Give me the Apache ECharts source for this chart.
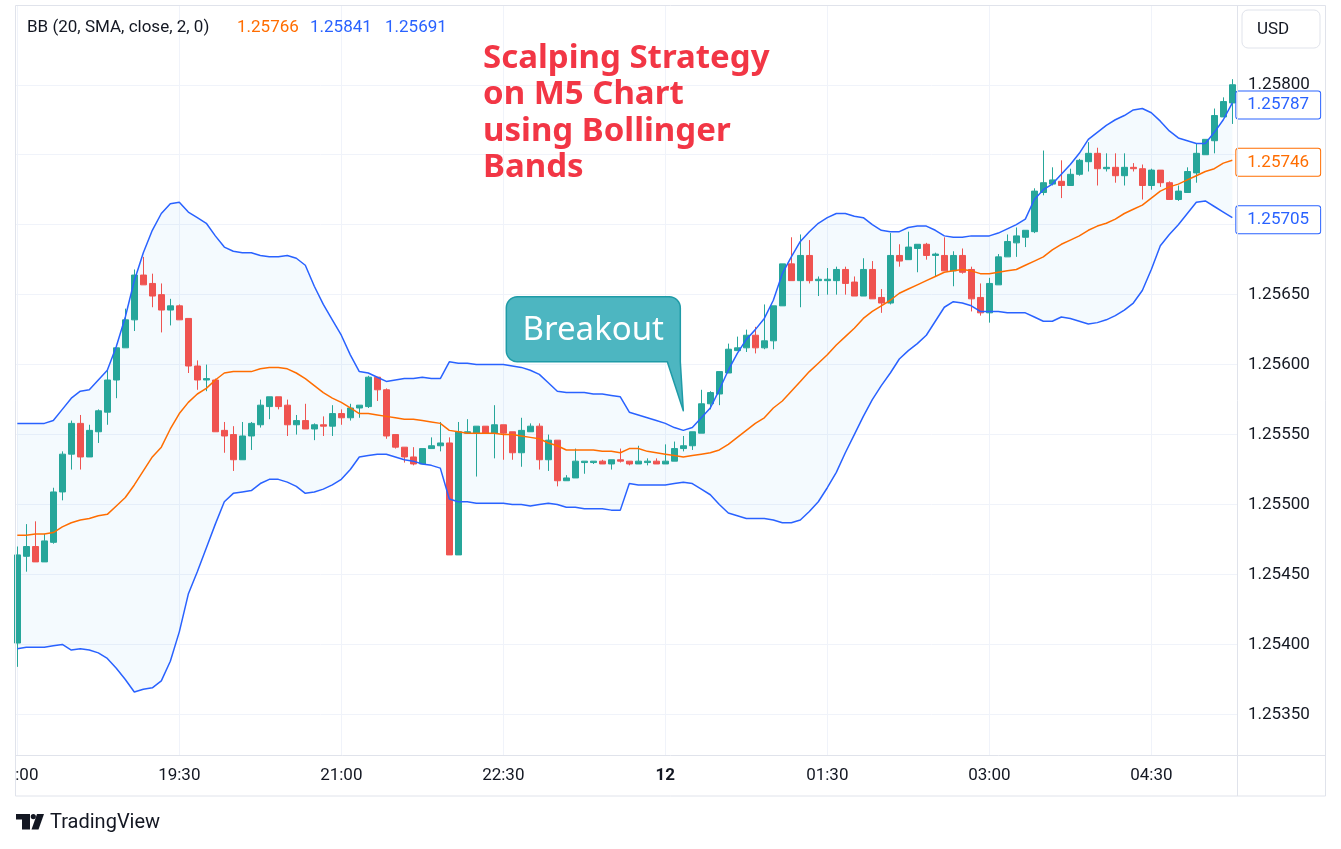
<!DOCTYPE html>
<html><head><meta charset="utf-8">
<script src="https://cdn.jsdelivr.net/npm/echarts@6/dist/echarts.min.js"></script>
<style>html,body{margin:0;padding:0;background:#fff}#main{width:1341px;height:849px}</style>
</head><body><div id="main"></div>
<script>
// ---------- data ----------
const timeLabels = ['18:00','19:30','21:00','22:30','12','01:30','03:00','04:30'];
const timeLabelIndex = [0,18,36,54,72,90,108,126];
const priceTicks = [1.2535,1.2540,1.2545,1.2550,1.2555,1.2560,1.2565,1.2570,1.2575,1.2580];
// labels hidden behind the indicator tags in the picture (1.25700, 1.25750) are left out
const priceLabelTicks = [1.2535,1.2540,1.2545,1.2550,1.2555,1.2560,1.2565,1.2580];

const openP = [1.25401,1.25463,1.25470,1.25459,1.25473,1.25509,1.25536,1.25558,1.25534,1.25552,
1.25566,1.25589,1.25612,1.25632,1.25664,1.25658,1.25650,1.25639,1.25642,1.25633,
1.25599,1.25589,1.25589,1.25553,1.25550,1.25532,1.25549,1.25557,1.25570,1.25577,
1.25571,1.25557,1.25560,1.25554,1.25557,1.25556,1.25565,1.25562,1.25569,1.25570,
1.25591,1.25582,1.25550,1.25541,1.25534,1.25529,1.25540,1.25542,1.25544,1.25464,
1.25551,1.25551,1.25556,1.25551,1.25557,1.25552,1.25537,1.25552,1.25556,1.25532,
1.25546,1.25517,1.25519,1.25530,1.25530,1.25531,1.25529,1.25532,1.25531,1.25529,
1.25530,1.25531,1.25529,1.25531,1.25540,1.25542,1.25551,1.25572,1.25579,1.25594,
1.25610,1.25612,1.25621,1.25612,1.25617,1.25642,1.25672,1.25660,1.25678,1.25660,
1.25660,1.25660,1.25668,1.25659,1.25649,1.25668,1.25648,1.25644,1.25678,1.25675,
1.25683,1.25686,1.25678,1.25678,1.25667,1.25678,1.25668,1.25648,1.25637,1.25657,
1.25677,1.25687,1.25691,1.25695,1.25723,1.25729,1.25731,1.25728,1.25736,1.25745,
1.25751,1.25740,1.25741,1.25735,1.25741,1.25740,1.25728,1.25739,1.25730,1.25718,
1.25723,1.25737,1.25750,1.25760,1.25777,1.25787];
const highP = [1.25470,1.25486,1.25488,1.25479,1.25512,1.25538,1.25560,1.25564,1.25557,1.25568,
1.25596,1.25612,1.25640,1.25668,1.25677,1.25665,1.25658,1.25647,1.25643,1.25633,
1.25603,1.25600,1.25590,1.25559,1.25556,1.25559,1.25559,1.25575,1.25577,1.25577,
1.25575,1.25564,1.25572,1.25558,1.25563,1.25571,1.25568,1.25572,1.25571,1.25592,
1.25591,1.25583,1.25550,1.25541,1.25541,1.25540,1.25548,1.25559,1.25548,1.25559,
1.25561,1.25556,1.25556,1.25571,1.25557,1.25552,1.25562,1.25558,1.25558,1.25550,
1.25546,1.25521,1.25540,1.25531,1.25531,1.25532,1.25532,1.25540,1.25531,1.25542,
1.25533,1.25533,1.25543,1.25545,1.25549,1.25552,1.25582,1.25581,1.25595,1.25615,
1.25620,1.25625,1.25627,1.25643,1.25642,1.25672,1.25691,1.25693,1.25689,1.25663,
1.25669,1.25670,1.25670,1.25663,1.25676,1.25674,1.25654,1.25694,1.25686,1.25695,
1.25686,1.25687,1.25680,1.25691,1.25681,1.25683,1.25670,1.25658,1.25662,1.25679,
1.25693,1.25698,1.25696,1.25726,1.25753,1.25741,1.25746,1.25740,1.25747,1.25759,
1.25755,1.25751,1.25751,1.25751,1.25744,1.25743,1.25740,1.25739,1.25731,1.25728,
1.25741,1.25758,1.25761,1.25783,1.25791,1.25804];
const lowP = [1.25384,1.25452,1.25459,1.25459,1.25472,1.25503,1.25525,1.25525,1.25534,1.25544,
1.25557,1.25576,1.25612,1.25624,1.25657,1.25641,1.25623,1.25628,1.25632,1.25594,
1.25582,1.25581,1.25552,1.25537,1.25524,1.25532,1.25539,1.25555,1.25561,1.25568,
1.25549,1.25550,1.25554,1.25546,1.25549,1.25549,1.25557,1.25560,1.25562,1.25569,
1.25574,1.25547,1.25540,1.25530,1.25528,1.25529,1.25540,1.25538,1.25464,1.25464,
1.25551,1.25520,1.25551,1.25533,1.25532,1.25532,1.25527,1.25552,1.25525,1.25524,
1.25513,1.25517,1.25519,1.25522,1.25529,1.25529,1.25525,1.25530,1.25528,1.25529,
1.25528,1.25529,1.25529,1.25531,1.25538,1.25539,1.25551,1.25568,1.25571,1.25594,
1.25610,1.25609,1.25608,1.25611,1.25611,1.25642,1.25660,1.25641,1.25658,1.25649,
1.25650,1.25650,1.25650,1.25649,1.25649,1.25647,1.25637,1.25643,1.25670,1.25675,
1.25666,1.25675,1.25663,1.25667,1.25656,1.25665,1.25638,1.25635,1.25630,1.25657,
1.25677,1.25677,1.25684,1.25694,1.25721,1.25728,1.25719,1.25728,1.25735,1.25738,
1.25728,1.25738,1.25730,1.25728,1.25738,1.25718,1.25725,1.25727,1.25718,1.25717,
1.25723,1.25730,1.25750,1.25751,1.25777,1.25772];
const closeP = [1.25464,1.25470,1.25459,1.25474,1.25509,1.25536,1.25558,1.25534,1.25553,1.25567,
1.25589,1.25612,1.25632,1.25664,1.25657,1.25649,1.25639,1.25642,1.25632,1.25599,
1.25589,1.25590,1.25552,1.25549,1.25532,1.25549,1.25558,1.25571,1.25577,1.25570,
1.25557,1.25560,1.25554,1.25557,1.25556,1.25565,1.25562,1.25569,1.25571,1.25591,
1.25582,1.25549,1.25541,1.25534,1.25529,1.25540,1.25542,1.25544,1.25464,1.25552,
1.25552,1.25556,1.25551,1.25557,1.25551,1.25537,1.25553,1.25556,1.25532,1.25546,
1.25517,1.25519,1.25531,1.25531,1.25531,1.25529,1.25532,1.25531,1.25529,1.25531,
1.25531,1.25529,1.25531,1.25540,1.25542,1.25552,1.25572,1.25580,1.25595,1.25611,
1.25612,1.25621,1.25612,1.25617,1.25642,1.25672,1.25660,1.25678,1.25660,1.25661,
1.25661,1.25668,1.25658,1.25649,1.25668,1.25647,1.25644,1.25678,1.25674,1.25684,
1.25686,1.25678,1.25679,1.25667,1.25678,1.25666,1.25647,1.25637,1.25658,1.25677,
1.25688,1.25692,1.25696,1.25724,1.25730,1.25732,1.25728,1.25736,1.25746,1.25751,
1.25740,1.25741,1.25735,1.25741,1.25740,1.25728,1.25739,1.25730,1.25718,1.25724,
1.25738,1.25751,1.25761,1.25778,1.25788,1.25800];

const bbUpper = [1.25558,1.25558,1.25558,1.25558,1.25560,1.25568,1.25576,1.25581,1.25582,1.25589,
1.25596,1.25613,1.25634,1.25660,1.25680,1.25696,1.25708,1.25715,1.25716,1.25709,
1.25705,1.25701,1.25692,1.25684,1.25681,1.25680,1.25680,1.25678,1.25677,1.25677,
1.25678,1.25676,1.25671,1.25656,1.25643,1.25632,1.25621,1.25607,1.25595,1.25594,
1.25591,1.25588,1.25589,1.25590,1.25590,1.25591,1.25590,1.25590,1.25602,1.25601,
1.25601,1.25600,1.25600,1.25600,1.25600,1.25599,1.25598,1.25596,1.25593,1.25587,
1.25581,1.25580,1.25580,1.25580,1.25579,1.25579,1.25578,1.25577,1.25566,1.25564,
1.25562,1.25560,1.25558,1.25555,1.25553,1.25555,1.25562,1.25569,1.25582,1.25596,
1.25608,1.25618,1.25625,1.25633,1.25646,1.25665,1.25677,1.25688,1.25695,1.25701,
1.25705,1.25708,1.25708,1.25706,1.25705,1.25700,1.25696,1.25695,1.25695,1.25698,
1.25699,1.25699,1.25696,1.25692,1.25691,1.25691,1.25692,1.25692,1.25692,1.25694,
1.25697,1.25700,1.25704,1.25718,1.25725,1.25729,1.25736,1.25743,1.25751,1.25761,
1.25766,1.25771,1.25775,1.25778,1.25782,1.25783,1.25780,1.25774,1.25767,1.25762,
1.25760,1.25758,1.25758,1.25766,1.25775,1.25787];
const bbBasis = [1.25478,1.25478,1.25479,1.25479,1.25480,1.25484,1.25487,1.25489,1.25490,1.25492,
1.25493,1.25499,1.25505,1.25514,1.25524,1.25534,1.25541,1.25554,1.25565,1.25573,
1.25579,1.25583,1.25589,1.25594,1.25595,1.25595,1.25595,1.25597,1.25598,1.25598,
1.25597,1.25594,1.25590,1.25585,1.25580,1.25576,1.25573,1.25569,1.25565,1.25565,
1.25564,1.25563,1.25562,1.25561,1.25561,1.25560,1.25559,1.25558,1.25553,1.25552,
1.25551,1.25551,1.25551,1.25551,1.25550,1.25550,1.25549,1.25548,1.25547,1.25544,
1.25542,1.25539,1.25539,1.25539,1.25539,1.25538,1.25538,1.25537,1.25540,1.25540,
1.25538,1.25537,1.25536,1.25535,1.25534,1.25535,1.25536,1.25537,1.25539,1.25543,
1.25548,1.25553,1.25558,1.25562,1.25569,1.25574,1.25581,1.25588,1.25595,1.25601,
1.25607,1.25614,1.25620,1.25626,1.25633,1.25638,1.25642,1.25646,1.25651,1.25654,
1.25657,1.25660,1.25663,1.25666,1.25667,1.25668,1.25667,1.25665,1.25665,1.25666,
1.25667,1.25668,1.25671,1.25674,1.25677,1.25682,1.25686,1.25689,1.25692,1.25696,
1.25699,1.25701,1.25704,1.25708,1.25711,1.25714,1.25719,1.25724,1.25727,1.25729,
1.25732,1.25735,1.25738,1.25740,1.25744,1.25746];
const bbLower = [1.25397,1.25398,1.25398,1.25398,1.25399,1.25400,1.25396,1.25397,1.25396,1.25394,
1.25390,1.25383,1.25375,1.25366,1.25368,1.25369,1.25374,1.25388,1.25409,1.25436,
1.25452,1.25469,1.25486,1.25502,1.25508,1.25509,1.25510,1.25515,1.25518,1.25518,
1.25516,1.25513,1.25508,1.25509,1.25511,1.25514,1.25518,1.25525,1.25534,1.25535,
1.25536,1.25536,1.25534,1.25532,1.25531,1.25529,1.25528,1.25526,1.25504,1.25502,
1.25502,1.25501,1.25501,1.25501,1.25501,1.25500,1.25500,1.25499,1.25500,1.25501,
1.25500,1.25498,1.25498,1.25497,1.25497,1.25497,1.25496,1.25496,1.25515,1.25514,
1.25514,1.25514,1.25514,1.25515,1.25516,1.25515,1.25511,1.25507,1.25500,1.25494,
1.25492,1.25490,1.25490,1.25490,1.25489,1.25487,1.25487,1.25489,1.25495,1.25502,
1.25512,1.25523,1.25537,1.25550,1.25563,1.25575,1.25585,1.25594,1.25604,1.25610,
1.25615,1.25621,1.25631,1.25641,1.25645,1.25644,1.25642,1.25638,1.25638,1.25638,
1.25637,1.25637,1.25637,1.25634,1.25631,1.25631,1.25634,1.25633,1.25631,1.25629,
1.25630,1.25632,1.25635,1.25639,1.25644,1.25653,1.25668,1.25685,1.25693,1.25700,
1.25708,1.25716,1.25717,1.25713,1.25709,1.25705];

const legendTitle = 'BB (20, SMA, close, 2, 0)';
const legendValues = [1.25766, 1.25841, 1.25691];
const titleLines = ['Scalping Strategy', 'on M5 Chart', 'using Bollinger', 'Bands'];
const breakoutText = 'Breakout';
const breakoutPoint = [74, 1.25567];

// ---------- chart ----------
const UP = '#26a69a', DOWN = '#ef5350', BLUE = '#2962ff', ORANGE = '#ff6d00';
const TXT = '#131722', FRAME = '#e0e3eb', GRIDC = '#f0f3fa';
const FONT = 'Roboto, "Noto Sans", sans-serif';
const fmt = v => v.toFixed(5);
const idxPts = arr => arr.map((v, i) => [i, v]);
const ohlc = openP.map((o, i) => [i, o, closeP[i], lowP[i], highP[i]]);

const chart = echarts.init(document.getElementById('main'));

function tagLabel(color) {
  return {
    show: true, distance: 4, offset: [0, 2], formatter: p => fmt(p.value[1]),
    color: color, fontSize: 17, fontFamily: FONT, lineHeight: 19,
    backgroundColor: '#ffffff', borderColor: color, borderWidth: 1, borderRadius: 2,
    padding: [4, 11, 4, 11]
  };
}

// band fill: polygon between upper and lower band, drawn through the axis scales
function renderBandFill(params, api) {
  if (params.dataIndex !== 0) return null;
  const pts = [];
  for (let i = 0; i < bbUpper.length; i++) pts.push(api.coord([i, bbUpper[i]]));
  for (let i = bbLower.length - 1; i >= 0; i--) pts.push(api.coord([i, bbLower[i]]));
  return { type: 'polygon', shape: { points: pts }, style: { fill: 'rgba(33,150,243,0.05)' }, silent: true };
}

const option = {
  animation: false,
  backgroundColor: '#ffffff',
  title: {
    text: titleLines.join('\n'), left: 483, top: 40, padding: 0,
    textStyle: { color: '#f23645', fontSize: 33, fontWeight: 'bold', lineHeight: 36.5,
      fontFamily: '"Noto Sans", "Open Sans", sans-serif' }
  },
  grid: { left: 15, top: 5, width: 1222, height: 750, show: false, containLabel: false, outerBoundsMode: 'none' },
  xAxis: {
    type: 'value', min: -0.256, max: 135.52,
    axisLine: { show: false },
    axisTick: { show: false, customValues: timeLabelIndex },
    axisLabel: {
      customValues: timeLabelIndex, margin: 12, color: TXT, fontSize: 17, fontFamily: FONT,
      formatter: v => { const k = timeLabelIndex.indexOf(Math.round(v)); const t = timeLabels[k];
        return t === '12' ? '{b|' + t + '}' : t; },
      rich: { b: { fontWeight: 'bold', fontSize: 17, fontFamily: FONT, color: TXT } }
    },
    splitLine: { show: true, lineStyle: { color: GRIDC, width: 1 } }
  },
  yAxis: {
    type: 'value', position: 'right', min: 1.25321, max: 1.25857, scale: true,
    axisLine: { show: false },
    axisTick: { show: false, customValues: priceTicks },
    axisLabel: { customValues: priceLabelTicks, margin: 11, padding: [4, 0, 0, 0], color: TXT, fontSize: 17, fontFamily: FONT, formatter: v => fmt(v) },
    splitLine: { show: true, lineStyle: { color: GRIDC, width: 1 } }
  },
  series: [
    { name: 'bandFill', type: 'custom', renderItem: renderBandFill, data: [[0, bbBasis[0]]],
      encode: { x: 0, y: 1 }, clip: true, silent: true, z: 1 },
    { name: 'price', type: 'candlestick', data: ohlc, encode: { x: 0, y: [1, 2, 3, 4] },
      barWidth: 6, z: 2,
      itemStyle: { color: UP, color0: DOWN, borderColor: UP, borderColor0: DOWN, borderWidth: 1 } },
    { name: 'upper', type: 'line', data: idxPts(bbUpper), symbol: 'none', z: 3,
      lineStyle: { color: BLUE, width: 1.5 }, endLabel: tagLabel(BLUE) },
    { name: 'lower', type: 'line', data: idxPts(bbLower), symbol: 'none', z: 3,
      lineStyle: { color: BLUE, width: 1.5 }, endLabel: tagLabel(BLUE) },
    { name: 'basis', type: 'line', data: idxPts(bbBasis), symbol: 'none', z: 3,
      lineStyle: { color: ORANGE, width: 1.5 }, endLabel: tagLabel(ORANGE) }
  ]
};
chart.setOption(option);

// ---------- chrome and annotation ----------
const tip = chart.convertToPixel({ xAxisIndex: 0, yAxisIndex: 0 }, breakoutPoint);
const bx0 = tip[0] - 177, bx1 = tip[0] - 3, by0 = tip[1] - 114, by1 = tip[1] - 49, tl = tip[0] - 16, rr = 11;
function arc(cx, cy, r, a0, a1) {
  const out = [];
  for (let k = 0; k <= 8; k++) { const a = (a0 + (a1 - a0) * k / 8) * Math.PI / 180; out.push([cx + r * Math.cos(a), cy + r * Math.sin(a)]); }
  return out;
}
const calloutPts = [].concat(
  arc(bx0 + rr, by0 + rr, rr, 180, 270),
  arc(bx1 - rr, by0 + rr, rr, 270, 360),
  [[bx1, by1], [tip[0], tip[1]], [tl, by1]],
  arc(bx0 + rr, by1 - rr, rr, 90, 180)
);

const graphics = [
  // frame
  { type: 'rect', z: 50, silent: true, shape: { x: 15.5, y: 5.5, width: 1310, height: 790.5 }, style: { fill: null, stroke: FRAME, lineWidth: 1 } },
  { type: 'line', z: 50, silent: true, shape: { x1: 1237.5, y1: 5, x2: 1237.5, y2: 796 }, style: { stroke: FRAME, lineWidth: 1 } },
  { type: 'line', z: 50, silent: true, shape: { x1: 15, y1: 755.5, x2: 1326, y2: 755.5 }, style: { stroke: FRAME, lineWidth: 1 } },
  // clip first time label at the frame edge
  { type: 'rect', z: 60, silent: true, shape: { x: 0, y: 760, width: 15, height: 32 }, style: { fill: '#ffffff' } },
  // legend
  { type: 'text', z: 60, silent: true, x: 27, y: 28, style: { text: legendTitle, fill: TXT, fontSize: 17, fontFamily: FONT, verticalAlign: 'middle' } },
  { type: 'text', z: 60, silent: true, x: 237, y: 28, style: { text: fmt(legendValues[0]), fill: ORANGE, fontSize: 17, fontFamily: FONT, verticalAlign: 'middle' } },
  { type: 'text', z: 60, silent: true, x: 310, y: 28, style: { text: fmt(legendValues[1]), fill: BLUE, fontSize: 17, fontFamily: FONT, verticalAlign: 'middle' } },
  { type: 'text', z: 60, silent: true, x: 385, y: 28, style: { text: fmt(legendValues[2]), fill: BLUE, fontSize: 17, fontFamily: FONT, verticalAlign: 'middle' } },
  // USD button
  { type: 'rect', z: 60, silent: true, shape: { x: 1242, y: 10, width: 78, height: 38, r: 6 }, style: { fill: '#ffffff', stroke: FRAME, lineWidth: 1 } },
  { type: 'text', z: 61, silent: true, x: 1257, y: 30, style: { text: 'USD', fill: TXT, fontSize: 17, fontFamily: FONT, verticalAlign: 'middle' } },
  // TradingView logo
  { type: 'rect', z: 60, silent: true, shape: { x: 16, y: 814, width: 14, height: 5.5 }, style: { fill: TXT } },
  { type: 'rect', z: 60, silent: true, shape: { x: 22, y: 814, width: 8, height: 15.5 }, style: { fill: TXT } },
  { type: 'circle', z: 60, silent: true, shape: { cx: 33.3, cy: 816.6, r: 2.6 }, style: { fill: TXT } },
  { type: 'polygon', z: 60, silent: true, shape: { points: [[37, 814], [44, 814], [38.5, 829.5], [31.5, 829.5]] }, style: { fill: TXT } },
  { type: 'text', z: 60, silent: true, x: 50, y: 823, style: { text: 'TradingView', fill: TXT, fontSize: 20, fontFamily: FONT, verticalAlign: 'middle' } },
  // Breakout callout
  { type: 'polygon', z: 70, silent: true, shape: { points: calloutPts }, style: { fill: '#4db6c1', stroke: '#1f9ba7', lineWidth: 1.5, lineJoin: 'round' } },
  { type: 'text', z: 71, silent: true, x: (bx0 + bx1) / 2, y: (by0 + by1) / 2 + 1, style: { text: breakoutText, fill: '#ffffff', fontSize: 33, fontFamily: '"Noto Sans", sans-serif', align: 'center', verticalAlign: 'middle' } }
];
chart.setOption({ graphic: graphics });
</script>
</body></html>
